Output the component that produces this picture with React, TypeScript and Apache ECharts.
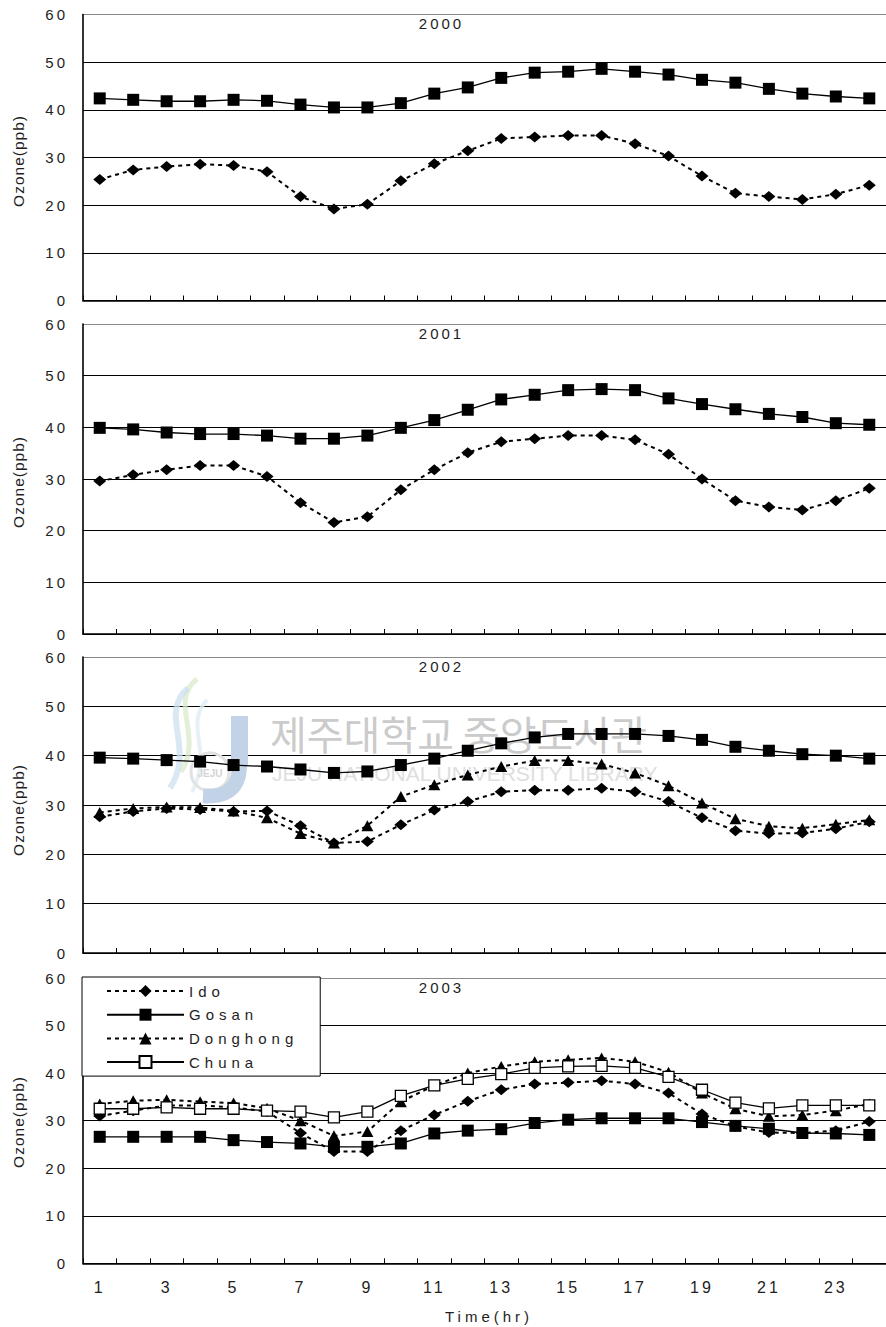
import React, { useEffect, useRef } from "react";
import * as echarts from "echarts";

// Hour-of-day categories
const HOURS = ["1", "2", "3", "4", "5", "6", "7", "8", "9", "10", "11", "12", "13", "14", "15", "16", "17", "18", "19", "20", "21", "22", "23", "24"];

// Mean diurnal ozone (ppb) by site and year
const IDO_2000 = [25.4, 27.4, 28.1, 28.6, 28.3, 27.0, 21.8, 19.2, 20.2, 25.1, 28.7, 31.4, 34.0, 34.3, 34.6, 34.6, 32.9, 30.3, 26.1, 22.5, 21.8, 21.2, 22.3, 24.2];
const GOSAN_2000 = [42.4, 42.1, 41.8, 41.8, 42.1, 41.9, 41.1, 40.5, 40.5, 41.4, 43.4, 44.7, 46.7, 47.8, 48.0, 48.6, 48.0, 47.4, 46.3, 45.7, 44.4, 43.4, 42.8, 42.4];

const IDO_2001 = [29.6, 30.8, 31.8, 32.6, 32.6, 30.5, 25.4, 21.6, 22.7, 27.9, 31.8, 35.1, 37.2, 37.8, 38.4, 38.4, 37.6, 34.8, 30.0, 25.8, 24.6, 24.0, 25.8, 28.2];
const GOSAN_2001 = [39.9, 39.6, 39.0, 38.7, 38.7, 38.4, 37.8, 37.8, 38.4, 39.9, 41.4, 43.4, 45.4, 46.3, 47.2, 47.4, 47.2, 45.6, 44.5, 43.5, 42.6, 42.0, 40.8, 40.5];

const IDO_2002 = [27.6, 28.7, 29.3, 29.1, 28.7, 28.8, 25.8, 22.3, 22.6, 26.0, 29.0, 30.7, 32.7, 33.0, 33.0, 33.4, 32.7, 30.7, 27.4, 24.8, 24.2, 24.3, 25.2, 26.6];
const GOSAN_2002 = [39.6, 39.4, 39.1, 38.8, 38.1, 37.8, 37.2, 36.5, 36.8, 38.1, 39.4, 41.0, 42.5, 43.7, 44.4, 44.4, 44.4, 44.0, 43.2, 41.8, 41.0, 40.3, 40.0, 39.4];
const DONGHONG_2002 = [28.5, 29.3, 29.6, 29.5, 28.8, 27.4, 24.2, 22.3, 25.8, 31.7, 34.1, 36.1, 37.8, 39.0, 39.0, 38.3, 36.5, 33.9, 30.4, 27.2, 25.7, 25.3, 26.1, 27.0];

const IDO_2003 = [31.0, 32.1, 33.2, 33.2, 32.8, 31.9, 27.4, 23.5, 23.5, 27.9, 31.2, 34.1, 36.5, 37.7, 38.0, 38.4, 37.7, 35.8, 31.4, 28.8, 27.5, 27.4, 27.9, 29.8];
const GOSAN_2003 = [26.6, 26.6, 26.6, 26.6, 25.9, 25.5, 25.2, 24.5, 24.5, 25.2, 27.3, 27.9, 28.2, 29.5, 30.2, 30.5, 30.5, 30.5, 29.7, 28.9, 28.3, 27.4, 27.3, 27.0];
const DONGHONG_2003 = [33.5, 34.2, 34.4, 34.0, 33.7, 32.6, 30.0, 26.8, 27.7, 34.0, 37.4, 40.0, 41.4, 42.4, 42.8, 43.2, 42.4, 40.2, 35.8, 32.5, 30.9, 31.2, 32.1, 33.5];
const CHUNA_2003 = [32.5, 32.5, 32.8, 32.5, 32.5, 32.1, 31.9, 30.7, 31.9, 35.2, 37.4, 38.8, 39.8, 41.1, 41.4, 41.5, 41.1, 39.2, 36.5, 33.8, 32.6, 33.2, 33.2, 33.2];

const YEARS = ["2000", "2001", "2002", "2003"];
const SITES = ["Ido", "Gosan", "Donghong", "Chuna"];
const Y_TICKS = [0, 60, 10]; // min, max, step
const Y_NAME = "Ozone(ppb)";
const X_NAME = "Time(hr)";
const WM_KO = "제주대학교 중앙도서관";
const WM_EN = "JEJU NATIONAL UNIVERSITY LIBRARY";

const PANEL_DATA: Record<string, number[]>[] = [
  { Ido: IDO_2000, Gosan: GOSAN_2000 },
  { Ido: IDO_2001, Gosan: GOSAN_2001 },
  { Ido: IDO_2002, Gosan: GOSAN_2002, Donghong: DONGHONG_2002 },
  { Ido: IDO_2003, Gosan: GOSAN_2003, Donghong: DONGHONG_2003, Chuna: CHUNA_2003 },
];

// layout of the four stacked plots
const W = 886;
const H = 1327;
const PLOT_LEFT = 83;
const PLOT_WIDTH = 807;
const PANEL_BOX = [
  { top: 14.5, height: 286 },
  { top: 324, height: 310 },
  { top: 657, height: 296 },
  { top: 978, height: 285.3 },
];
const YNAME_CENTER = [161, 482, 810, 1122];

const FONT = "'Liberation Sans', Arial, sans-serif";
const INK = "#1e1e1e";

const dashed = { color: "#000", width: 2, type: [4, 4] as number[] };
const solid = { color: "#000", width: 1.3, type: "solid" as const };

const SITE_STYLE: Record<string, any> = {
  Ido: { symbol: "diamond", symbolSize: [13, 11], lineStyle: dashed, itemStyle: { color: "#000" } },
  Gosan: { symbol: "rect", symbolSize: 12, lineStyle: solid, itemStyle: { color: "#000" } },
  Donghong: { symbol: "triangle", symbolSize: [12, 11], lineStyle: dashed, itemStyle: { color: "#000" } },
  Chuna: {
    symbol: "rect",
    symbolSize: 11,
    lineStyle: solid,
    itemStyle: { color: "#fff", borderColor: "#000", borderWidth: 1.3 },
  },
};

function letterSpacingFor(s: string): number {
  if (SITES.includes(s)) return 5;
  if (s === X_NAME) return 4;
  if (s === Y_NAME) return 1;
  if (/^\d+$/.test(s)) return 3;
  return 0;
}

function applySpacing(root: HTMLElement) {
  root.querySelectorAll("text").forEach((t) => {
    const s = (t.textContent || "").trim();
    const ls = letterSpacingFor(s);
    if (ls) (t as SVGTextElement).style.letterSpacing = ls + "px";
  });
}

function buildOption() {
  const grid = PANEL_BOX.map((b) => ({ left: PLOT_LEFT, width: PLOT_WIDTH, top: b.top, height: b.height }));
  const xAxis = PANEL_BOX.map((_, i) => ({
    type: "category",
    gridIndex: i,
    data: HOURS,
    boundaryGap: true,
    axisLine: { show: true, lineStyle: { color: "#000", width: 1.6 } },
    axisTick: { show: true, inside: true, length: 5, interval: 0, lineStyle: { color: "#000", width: 1 } },
    axisLabel: {
      show: i === PANEL_BOX.length - 1,
      interval: 1,
      margin: 16,
      fontSize: 16,
      color: INK,
      fontFamily: FONT,
    },
    splitLine: { show: false },
  }));
  const yAxis = PANEL_BOX.map((_, i) => ({
    type: "value",
    gridIndex: i,
    min: Y_TICKS[0],
    max: Y_TICKS[1],
    interval: Y_TICKS[2],
    axisLine: { show: true, lineStyle: { color: "#000", width: 1.6 } },
    axisTick: { show: false },
    axisLabel: { margin: 15, fontSize: 15, color: INK, fontFamily: FONT },
    splitLine: {
      show: true,
      lineStyle: { color: ["#000", "#000", "#000", "#000", "#000", "#000", "#8a8a8a"], width: 1 },
    },
  }));

  const series: any[] = [];
  PANEL_DATA.forEach((panel, i) => {
    SITES.forEach((site) => {
      const values = panel[site];
      if (!values) return;
      const st = SITE_STYLE[site];
      series.push({
        type: "line",
        name: site,
        xAxisIndex: i,
        yAxisIndex: i,
        data: values,
        symbol: st.symbol,
        symbolSize: st.symbolSize,
        showAllSymbol: true,
        lineStyle: st.lineStyle,
        itemStyle: st.itemStyle,
        emphasis: { disabled: true },
        silent: true,
        z: 3,
      });
    });
  });

  const yearTitles = YEARS.map((y, i) => ({
    type: "text",
    x: 441.5,
    y: PANEL_BOX[i].top + 9.3,
    z: 5,
    silent: true,
    style: {
      text: y,
      fill: INK,
      fontSize: 15,
      fontFamily: FONT,
      align: "center",
      verticalAlign: "middle",
      textAlign: "center",
      textVerticalAlign: "middle",
    },
  }));

  const yNames = YNAME_CENTER.map((cy) => ({
    type: "text",
    x: 18.5,
    y: cy,
    rotation: Math.PI / 2,
    silent: true,
    style: {
      text: Y_NAME,
      fill: INK,
      fontSize: 15.5,
      fontFamily: FONT,
      align: "center",
      verticalAlign: "middle",
      textAlign: "center",
      textVerticalAlign: "middle",
    },
  }));

  // faded library watermark over the 2002 plot
  const watermark = [
    {
      type: "bezierCurve",
      silent: true,
      z: 1,
      shape: { x1: 197, y1: 679, cpx1: 168, cpy1: 702, cpx2: 204, cpy2: 735, x2: 181, y2: 772 },
      style: { stroke: "#d9e9c9", lineWidth: 5, fill: null, opacity: 0.75 },
    },
    {
      type: "bezierCurve",
      silent: true,
      z: 1,
      shape: { x1: 188, y1: 688, cpx1: 158, cpy1: 714, cpx2: 196, cpy2: 748, x2: 170, y2: 788 },
      style: { stroke: "#cce0ef", lineWidth: 6, fill: null, opacity: 0.75 },
    },
    {
      type: "bezierCurve",
      silent: true,
      z: 1,
      shape: { x1: 207, y1: 700, cpx1: 183, cpy1: 725, cpx2: 214, cpy2: 750, x2: 192, y2: 792 },
      style: { stroke: "#e0edf5", lineWidth: 4, fill: null, opacity: 0.8 },
    },
    {
      type: "circle",
      silent: true,
      z: 1,
      shape: { cx: 210, cy: 772, r: 19 },
      style: { stroke: "#e2e2e2", lineWidth: 3, fill: null },
    },
    {
      type: "rect",
      silent: true,
      z: 1,
      shape: { x: 231, y: 716, width: 17, height: 50 },
      style: { fill: "#c2d3e8" },
    },
    {
      type: "bezierCurve",
      silent: true,
      z: 1,
      shape: { x1: 239.5, y1: 764, cpx1: 240, cpy1: 792, cpx2: 222, cpy2: 797, x2: 203, y2: 796 },
      style: { stroke: "#c2d3e8", lineWidth: 15, fill: null },
    },
    {
      type: "text",
      silent: true,
      z: 1,
      x: 210,
      y: 773,
      style: {
        text: "JEJU",
        fill: "#d4d4d4",
        fontSize: 10,
        fontWeight: "bold",
        fontFamily: FONT,
        align: "center",
        verticalAlign: "middle",
        textAlign: "center",
        textVerticalAlign: "middle",
      },
    },
    {
      type: "text",
      silent: true,
      z: 1,
      x: 270,
      y: 733,
      style: {
        text: WM_KO,
        fill: "#cbcbcb",
        fontSize: 40,
        fontFamily: "'Noto Sans CJK KR', sans-serif",
        align: "left",
        verticalAlign: "middle",
        textAlign: "left",
        textVerticalAlign: "middle",
      },
    },
    {
      type: "text",
      silent: true,
      z: 1,
      x: 272,
      y: 773,
      style: {
        text: WM_EN,
        fill: "#dedede",
        fontSize: 21,
        fontFamily: FONT,
        align: "left",
        verticalAlign: "middle",
        textAlign: "left",
        textVerticalAlign: "middle",
      },
    },
  ];

  const xName = {
    type: "text",
    x: 489,
    y: 1316,
    silent: true,
    style: {
      text: X_NAME,
      fill: INK,
      fontSize: 15,
      fontFamily: FONT,
      align: "center",
      verticalAlign: "middle",
      textAlign: "center",
      textVerticalAlign: "middle",
    },
  };

  return {
    animation: false,
    backgroundColor: "#fff",
    textStyle: { fontFamily: FONT },
    grid,
    xAxis,
    yAxis,
    legend: {
      orient: "vertical",
      left: 82,
      top: 977,
      data: SITES,
      selectedMode: false,
      itemWidth: 77,
      itemHeight: 15,
      itemGap: 8.7,
      padding: [6.5, 62, 6.5, 24],
      backgroundColor: "#fff",
      borderColor: "#000",
      borderWidth: 1,
      z: 10,
      textStyle: { fontSize: 15, lineHeight: 15, color: INK, fontFamily: FONT },
    },
    graphic: { elements: [...watermark, ...yearTitles, ...yNames, xName] },
    series,
  };
}

export default function App() {
  const ref = useRef<HTMLDivElement>(null);

  useEffect(() => {
    const el = ref.current;
    if (!el) return;
    const chart = echarts.init(el, null, { renderer: "svg", width: W, height: H });
    chart.setOption(buildOption() as any);
    applySpacing(el);
    const onFinished = () => applySpacing(el);
    chart.on("finished", onFinished);
    return () => {
      chart.off("finished", onFinished);
      chart.dispose();
    };
  }, []);

  return (
    <div
      ref={ref}
      style={{ position: "absolute", left: 0, top: 0, width: W, height: H, background: "#fff" }}
    />
  );
}
